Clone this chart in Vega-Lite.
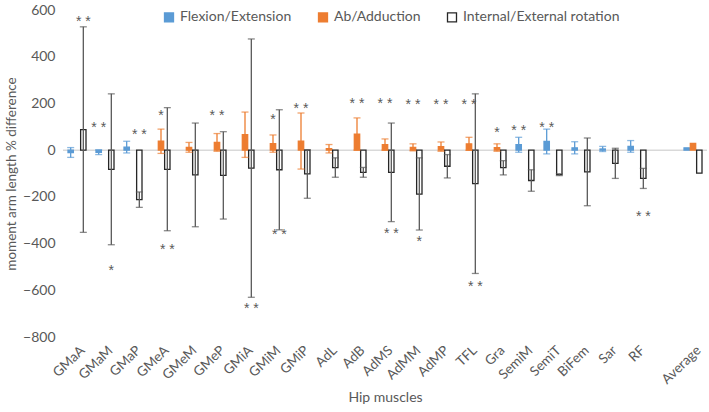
{
  "$schema": "https://vega.github.io/schema/vega-lite/v6.json",
  "width": 644,
  "height": 327,
  "autosize": {"type": "none"},
  "padding": {"left": 63, "top": 10, "right": 2, "bottom": 75},
  "background": "white",
  "config": {"font": "Lato", "view": {"stroke": null}},
  "datasets": {
    "bars": [
      {"muscle": "GMaA", "series": "Flexion/Extension", "value": -10, "low": -31, "high": 11},
      {"muscle": "GMaA", "series": "Internal/External rotation", "value": 88, "low": -352, "high": 528},
      {"muscle": "GMaM", "series": "Flexion/Extension", "value": -9, "low": -19, "high": 1},
      {"muscle": "GMaM", "series": "Internal/External rotation", "value": -82, "low": -405, "high": 241},
      {"muscle": "GMaP", "series": "Flexion/Extension", "value": 13, "low": -12, "high": 38},
      {"muscle": "GMaP", "series": "Internal/External rotation", "value": -212, "low": -245, "high": -179},
      {"muscle": "GMeA", "series": "Ab/Adduction", "value": 38, "low": -14, "high": 90},
      {"muscle": "GMeA", "series": "Internal/External rotation", "value": -82, "low": -345, "high": 182},
      {"muscle": "GMeM", "series": "Ab/Adduction", "value": 12, "low": -9, "high": 33},
      {"muscle": "GMeM", "series": "Internal/External rotation", "value": -106, "low": -328, "high": 116},
      {"muscle": "GMeP", "series": "Ab/Adduction", "value": 33, "low": -5, "high": 71},
      {"muscle": "GMeP", "series": "Internal/External rotation", "value": -108, "low": -295, "high": 79},
      {"muscle": "GMiA", "series": "Ab/Adduction", "value": 66, "low": -31, "high": 163},
      {"muscle": "GMiA", "series": "Internal/External rotation", "value": -77, "low": -630, "high": 476},
      {"muscle": "GMiM", "series": "Ab/Adduction", "value": 28, "low": -9, "high": 65},
      {"muscle": "GMiM", "series": "Internal/External rotation", "value": -84, "low": -341, "high": 173},
      {"muscle": "GMiP", "series": "Ab/Adduction", "value": 39, "low": -81, "high": 159},
      {"muscle": "GMiP", "series": "Internal/External rotation", "value": -102, "low": -206, "high": 2},
      {"muscle": "AdL", "series": "Ab/Adduction", "value": 6, "low": -12, "high": 24},
      {"muscle": "AdL", "series": "Internal/External rotation", "value": -75, "low": -116, "high": -33},
      {"muscle": "AdB", "series": "Ab/Adduction", "value": 69, "low": 0, "high": 138},
      {"muscle": "AdB", "series": "Internal/External rotation", "value": -95, "low": -116, "high": -74},
      {"muscle": "AdMS", "series": "Ab/Adduction", "value": 24, "low": 0, "high": 48},
      {"muscle": "AdMS", "series": "Internal/External rotation", "value": -95, "low": -306, "high": 116},
      {"muscle": "AdMM", "series": "Ab/Adduction", "value": 12, "low": -3, "high": 27},
      {"muscle": "AdMM", "series": "Internal/External rotation", "value": -188, "low": -342, "high": -33},
      {"muscle": "AdMP", "series": "Ab/Adduction", "value": 15, "low": -5, "high": 35},
      {"muscle": "AdMP", "series": "Internal/External rotation", "value": -69, "low": -119, "high": -19},
      {"muscle": "TFL", "series": "Ab/Adduction", "value": 27, "low": -1, "high": 55},
      {"muscle": "TFL", "series": "Internal/External rotation", "value": -143, "low": -528, "high": 241},
      {"muscle": "Gra", "series": "Ab/Adduction", "value": 11, "low": -5, "high": 27},
      {"muscle": "Gra", "series": "Internal/External rotation", "value": -75, "low": -106, "high": -45},
      {"muscle": "SemiM", "series": "Flexion/Extension", "value": 23, "low": -9, "high": 55},
      {"muscle": "SemiM", "series": "Internal/External rotation", "value": -130, "low": -176, "high": -84},
      {"muscle": "SemiT", "series": "Flexion/Extension", "value": 37, "low": -16, "high": 90},
      {"muscle": "SemiT", "series": "Internal/External rotation", "value": -105, "low": -109, "high": -101},
      {"muscle": "BiFem", "series": "Flexion/Extension", "value": 10, "low": -16, "high": 36},
      {"muscle": "BiFem", "series": "Internal/External rotation", "value": -93, "low": -238, "high": 52},
      {"muscle": "Sar", "series": "Flexion/Extension", "value": 5, "low": -6, "high": 16},
      {"muscle": "Sar", "series": "Internal/External rotation", "value": -57, "low": -121, "high": 8},
      {"muscle": "RF", "series": "Flexion/Extension", "value": 16, "low": -9, "high": 41},
      {"muscle": "RF", "series": "Internal/External rotation", "value": -121, "low": -164, "high": -78},
      {"muscle": "Average", "series": "Flexion/Extension", "value": 10, "low": null, "high": null},
      {"muscle": "Average", "series": "Ab/Adduction", "value": 29, "low": null, "high": null},
      {"muscle": "Average", "series": "Internal/External rotation", "value": -98, "low": null, "high": null}
    ],
    "notes": [
      {"muscle": "GMaA", "series": "Internal/External rotation", "y": 567, "label": "* *"},
      {"muscle": "GMaM", "series": "Flexion/Extension", "y": 113, "label": "* *"},
      {"muscle": "GMaM", "series": "Internal/External rotation", "y": -499, "label": "*"},
      {"muscle": "GMaP", "series": "Internal/External rotation", "y": 80, "label": "* *"},
      {"muscle": "GMeA", "series": "Ab/Adduction", "y": 165, "label": "*"},
      {"muscle": "GMeA", "series": "Internal/External rotation", "y": -410, "label": "* *"},
      {"muscle": "GMeP", "series": "Ab/Adduction", "y": 165, "label": "* *"},
      {"muscle": "GMiA", "series": "Internal/External rotation", "y": -662, "label": "* *"},
      {"muscle": "GMiM", "series": "Ab/Adduction", "y": 148, "label": "*"},
      {"muscle": "GMiM", "series": "Internal/External rotation", "y": -345, "label": "* *"},
      {"muscle": "GMiP", "series": "Ab/Adduction", "y": 195, "label": "* *"},
      {"muscle": "AdB", "series": "Ab/Adduction", "y": 216, "label": "* *"},
      {"muscle": "AdMS", "series": "Ab/Adduction", "y": 216, "label": "* *"},
      {"muscle": "AdMS", "series": "Internal/External rotation", "y": -340, "label": "* *"},
      {"muscle": "AdMM", "series": "Ab/Adduction", "y": 212, "label": "* *"},
      {"muscle": "AdMM", "series": "Internal/External rotation", "y": -378, "label": "*"},
      {"muscle": "AdMP", "series": "Ab/Adduction", "y": 212, "label": "* *"},
      {"muscle": "TFL", "series": "Ab/Adduction", "y": 212, "label": "* *"},
      {"muscle": "TFL", "series": "Internal/External rotation", "y": -567, "label": "* *"},
      {"muscle": "Gra", "series": "Ab/Adduction", "y": 92, "label": "*"},
      {"muscle": "SemiM", "series": "Flexion/Extension", "y": 100, "label": "* *"},
      {"muscle": "SemiT", "series": "Flexion/Extension", "y": 113, "label": "* *"},
      {"muscle": "RF", "series": "Internal/External rotation", "y": -270, "label": "* *"}
    ]
  },
  "encoding": {
    "x": {
      "field": "muscle",
      "type": "nominal",
      "scale": {
        "domain": ["GMaA", "GMaM", "GMaP", "GMeA", "GMeM", "GMeP", "GMiA", "GMiM", "GMiP", "AdL", "AdB", "AdMS", "AdMM", "AdMP", "TFL", "Gra", "SemiM", "SemiT", "BiFem", "Sar", "RF", " ", "Average"],
        "paddingInner": 0.357,
        "paddingOuter": 0.1785
      },
      "axis": {
        "title": "Hip muscles",
        "labelAngle": -44,
        "labelFontSize": 13.5,
        "labelColor": "#595959",
        "labelPadding": 6,
        "labelOffset": 1,
        "domain": false,
        "ticks": false,
        "grid": false,
        "titleFontSize": 14,
        "titleColor": "#595959",
        "titleFontWeight": "normal",
        "titlePadding": 4
      }
    }
  },
  "layer": [
    {
      "data": {"values": [{"v": 0}]},
      "mark": {"type": "rule", "color": "#D9D9D9", "strokeWidth": 1.5},
      "encoding": {
        "x": null,
        "y": {"field": "v", "type": "quantitative"}
      }
    },
    {
      "data": {"name": "bars"},
      "mark": {"type": "bar", "strokeWidth": 1.3},
      "encoding": {
        "xOffset": {
          "field": "series",
          "type": "nominal",
          "scale": {"domain": ["Flexion/Extension", "Ab/Adduction", "Internal/External rotation"], "paddingInner": 0.15, "paddingOuter": 0}
        },
        "y": {
          "field": "value",
          "type": "quantitative",
          "scale": {"domain": [-800, 600], "nice": false, "zero": true},
          "axis": {
            "title": "moment arm length % difference",
            "values": [-800, -600, -400, -200, 0, 200, 400, 600],
            "domain": false,
            "ticks": false,
            "grid": false,
            "labelFontSize": 14,
            "labelColor": "#595959",
            "labelPadding": 8,
            "titleFontSize": 13.5,
            "titleColor": "#595959",
            "titleFontWeight": "normal",
            "titlePadding": 4
          }
        },
        "fill": {
          "field": "series",
          "type": "nominal",
          "scale": {"domain": ["Flexion/Extension", "Ab/Adduction", "Internal/External rotation"], "range": ["#5B9BD5", "#ED7D31", "#FFFFFF"]},
          "legend": {
            "title": null,
            "orient": "none",
            "legendX": 99,
            "legendY": 0,
            "direction": "horizontal",
            "symbolType": "square",
            "symbolSize": 81,
            "symbolStrokeWidth": 1.3,
            "labelFontSize": 14,
            "labelLimit": 300,
            "labelColor": "#595959",
            "labelOffset": 4,
            "columnPadding": 23
          }
        },
        "stroke": {
          "field": "series",
          "type": "nominal",
          "scale": {"domain": ["Flexion/Extension", "Ab/Adduction", "Internal/External rotation"], "range": ["#5B9BD5", "#ED7D31", "#262626"]},
          "legend": {
            "title": null,
            "orient": "none",
            "legendX": 99,
            "legendY": 0,
            "direction": "horizontal",
            "symbolType": "square",
            "symbolSize": 81,
            "symbolStrokeWidth": 1.3,
            "labelFontSize": 14,
            "labelLimit": 300,
            "labelColor": "#595959",
            "labelOffset": 4,
            "columnPadding": 23
          }
        }
      }
    },
    {
      "data": {"name": "bars"},
      "transform": [{"filter": "datum.low != null"}],
      "mark": {"type": "rule", "strokeWidth": 1.3},
      "encoding": {
        "xOffset": {"field": "series", "type": "nominal"},
        "y": {"field": "low", "type": "quantitative"},
        "y2": {"field": "high"},
        "color": {
          "field": "series",
          "type": "nominal",
          "scale": {"domain": ["Flexion/Extension", "Ab/Adduction", "Internal/External rotation"], "range": ["#5B9BD5", "#ED7D31", "#595959"]},
          "legend": null
        }
      }
    },
    {
      "data": {"name": "bars"},
      "transform": [{"filter": "datum.low != null"}],
      "mark": {"type": "tick", "size": 7, "thickness": 1.3, "orient": "horizontal"},
      "encoding": {
        "xOffset": {"field": "series", "type": "nominal"},
        "y": {"field": "low", "type": "quantitative"},
        "color": {"field": "series", "type": "nominal", "legend": null}
      }
    },
    {
      "data": {"name": "bars"},
      "transform": [{"filter": "datum.low != null"}],
      "mark": {"type": "tick", "size": 7, "thickness": 1.3, "orient": "horizontal"},
      "encoding": {
        "xOffset": {"field": "series", "type": "nominal"},
        "y": {"field": "high", "type": "quantitative"},
        "color": {"field": "series", "type": "nominal", "legend": null}
      }
    },
    {
      "data": {"name": "notes"},
      "mark": {"type": "text", "font": "Liberation Sans", "fontSize": 14, "baseline": "middle", "dy": 4, "fill": "#595959"},
      "encoding": {
        "xOffset": {"field": "series", "type": "nominal"},
        "y": {"field": "y", "type": "quantitative"},
        "text": {"field": "label"}
      }
    }
  ]
}
